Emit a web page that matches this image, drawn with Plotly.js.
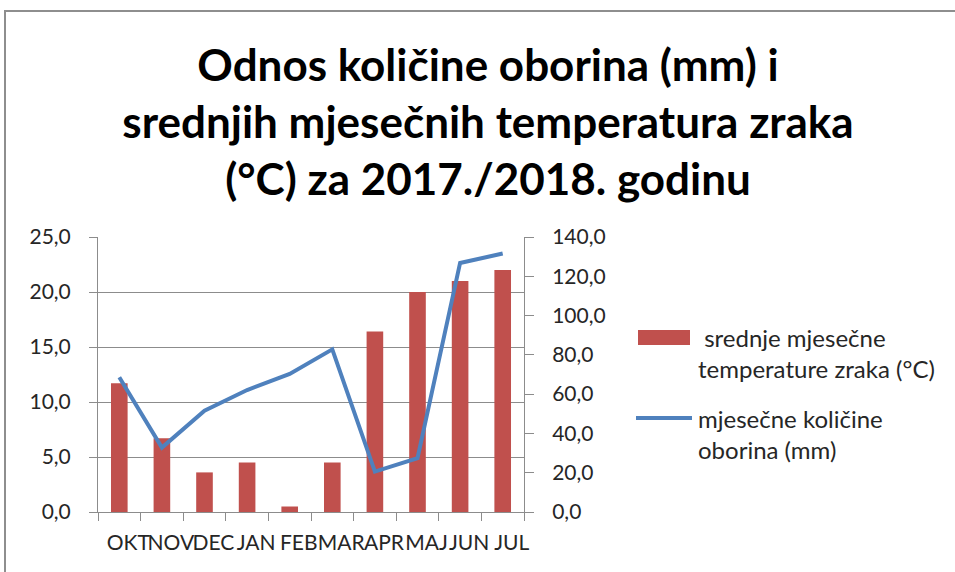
<!DOCTYPE html>
<html>
<head>
<meta charset="utf-8">
<script src="https://cdn.plot.ly/plotly-3.0.1.min.js"></script>
<style>
  html, body { margin: 0; padding: 0; background: #fff; overflow: hidden; }
  #chart { width: 955px; height: 572px; }
  #frame { position: absolute; left: 4px; top: 10px; width: 2000px; height: 2000px;
           border-top: 2px solid #8e8e8e; border-left: 2px solid #8e8e8e; pointer-events: none; }
</style>
</head>
<body>
<div id="chart"></div>
<div id="frame"></div>
<script>
const months = ['OKT', 'NOV', 'DEC', 'JAN', 'FEB', 'MAR', 'APR', 'MAJ', 'JUN', 'JUL'];
const temperatures = [11.7, 6.7, 3.6, 4.5, 0.5, 4.5, 16.4, 20.0, 21.0, 22.0];
const precipitation = [68.6, 32.8, 51.6, 62.1, 70.3, 82.8, 20.6, 27.4, 126.8, 131.6];
const legendTemp = 'srednje mjesečne<br>temperature zraka (°C)';
const legendPrec = 'mjesečne količine<br>oborina (mm)';
const titleText = 'Odnos količine oborina (mm) i<br>srednjih mjesečnih temperatura zraka<br>(°C) za 2017./2018. godinu';

const FONT = 'Lato, "Open Sans", sans-serif';
const TXT = '#262626';
const GRID = '#8c8c8c';

const traces = [
  {
    type: 'bar', x: months, y: temperatures, yaxis: 'y',
    marker: { color: '#C0504D' }, width: 0.39, showlegend: false,
    name: 'srednje mjesečne temperature zraka (°C)'
  },
  {
    type: 'scatter', mode: 'lines', x: months, y: precipitation, yaxis: 'y2',
    line: { color: '#4F81BD', width: 4 }, showlegend: false,
    name: 'mjesečne količine oborina (mm)'
  }
];

const layout = {
  width: 955, height: 572,
  margin: { l: 98, r: 431, t: 237, b: 60 },
  paper_bgcolor: '#fff', plot_bgcolor: '#fff',
  separators: ',.',
  font: { family: FONT, color: TXT, size: 21 },
  title: {
    text: titleText,
    font: { family: FONT, size: 44, color: '#000', weight: 'bold' },
    x: 488 / 955, xanchor: 'center', xref: 'container',
    y: 1 - 81 / 572, yanchor: 'top', yref: 'container'
  },
  xaxis: {
    type: 'category', range: [-0.5, 9.5], tickangle: 0,
    ticks: 'outside', ticklen: 8, tickcolor: GRID, tickson: 'boundaries',
    showline: true, linecolor: GRID, linewidth: 1, showgrid: false,
    tickfont: { size: 21, color: TXT }, ticklabelstandoff: 12, ticklabelshift: 9
  },
  yaxis: {
    range: [0, 25], dtick: 5, tickformat: '.1f',
    showgrid: true, gridcolor: GRID, gridwidth: 1, zeroline: false,
    showline: true, linecolor: GRID, ticks: 'outside', ticklen: 8, tickcolor: GRID,
    tickfont: { size: 21, color: TXT }, ticklabelstandoff: 14
  },
  yaxis2: {
    overlaying: 'y', side: 'right', range: [0, 140], dtick: 20, tickformat: '.1f',
    showgrid: false, zeroline: false,
    showline: true, linecolor: GRID, ticks: 'outside', ticklen: 9, tickcolor: GRID,
    tickfont: { size: 21, color: TXT }, ticklabelstandoff: 14
  },
  shapes: [
    { type: 'rect', xref: 'paper', yref: 'paper',
      x0: (638 - 98) / 426, x1: (690 - 98) / 426, y0: (512 - 345) / 275, y1: (512 - 330) / 275,
      fillcolor: '#C0504D', line: { width: 0 } },
    { type: 'line', xref: 'paper', yref: 'paper',
      x0: (636 - 98) / 426, x1: (692 - 98) / 426, y0: (512 - 418) / 275, y1: (512 - 418) / 275,
      line: { color: '#4F81BD', width: 4 } }
  ],
  annotations: [
    { xref: 'paper', yref: 'paper', x: (696 - 98) / 426, y: (512 - 353) / 275,
      xanchor: 'left', yanchor: 'middle', align: 'left', showarrow: false,
      text: '&nbsp;' + legendTemp, font: { size: 24, color: TXT } },
    { xref: 'paper', yref: 'paper', x: (696 - 98) / 426, y: (512 - 434) / 275,
      xanchor: 'left', yanchor: 'middle', align: 'left', showarrow: false,
      text: legendPrec, font: { size: 24, color: TXT } }
  ]
};

Plotly.newPlot('chart', traces, layout, { displayModeBar: false, staticPlot: true });
</script>
</body>
</html>
